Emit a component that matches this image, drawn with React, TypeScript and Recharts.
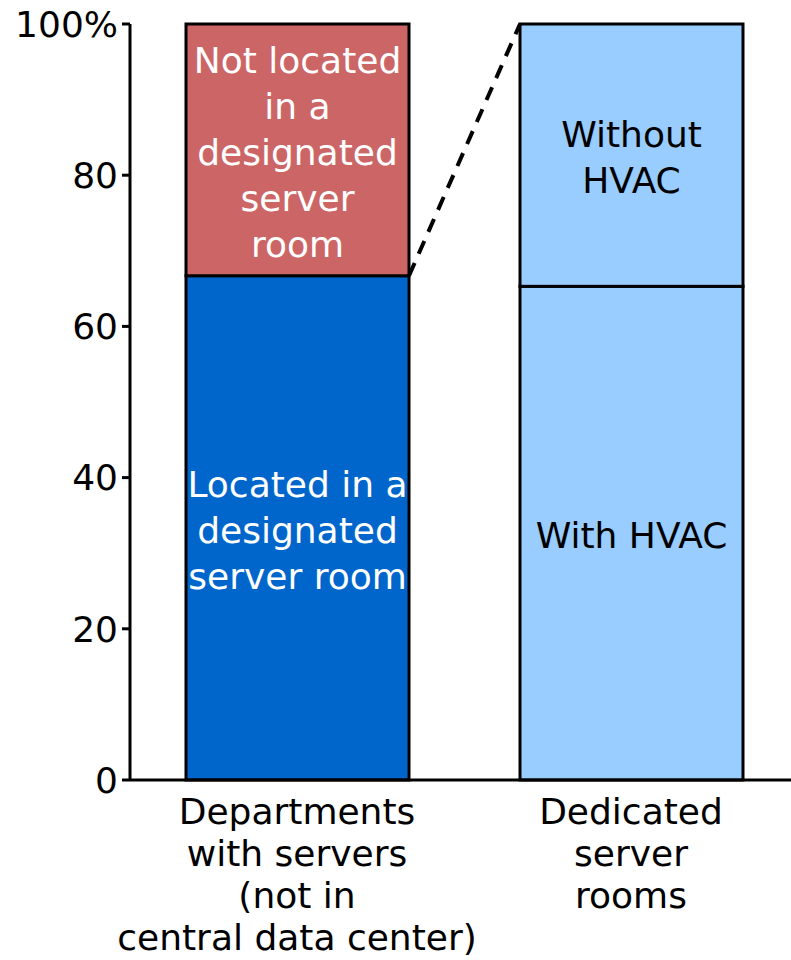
import React from "react"
import { Bar, BarChart, XAxis, YAxis } from "recharts"

// categories + stacked shares (percent)
const categories = ["Departments with servers (not in central data center)", "Dedicated server rooms"]
const categoryLines = [
  ["Departments", "with servers", "(not in", "central data center)"],
  ["Dedicated", "server", "rooms"],
]
const lowerValues = [66.7, 65.3]
const upperValues = [33.3, 34.7]
const lowerLabels = [["Located in a", "designated", "server room"], ["With HVAC"]]
const upperLabels = [["Not located", "in a", "designated", "server", "room"], ["Without", "HVAC"]]
const lowerColors = ["#0066CC", "#99CCFF"]
const upperColors = ["#CC6666", "#99CCFF"]
const labelColors = ["#FFFFFF", "#000000"]
const yTicks = [0, 20, 40, 60, 80, 100]

const data = categories.map((name, i) => ({ name, lower: lowerValues[i], upper: upperValues[i] }))

const FONT = "DejaVu Sans, Verdana, sans-serif"
const FS = 36

// corner of the first bar's lower segment, picked up by the zoom connector
let connectorStart: { x: number; y: number } | null = null

function segmentShape(which: "lower" | "upper") {
  return (props: any) => {
    const { x, y, width, height, index } = props
    const fill = which === "lower" ? lowerColors[index] : upperColors[index]
    const lines = which === "lower" ? lowerLabels[index] : upperLabels[index]
    const lh = 46
    const cy = y + height / 2 + 2 - ((lines.length - 1) * lh) / 2
    if (which === "lower" && index === 0) connectorStart = { x: x + width, y }
    return (
      <g>
        <rect x={x} y={y} width={width} height={height} fill={fill} stroke="#000" strokeWidth={3} />
        <text
          x={x + width / 2}
          y={cy}
          textAnchor="middle"
          dominantBaseline="central"
          fontFamily={FONT}
          fontSize={FS}
          fill={labelColors[index]}
        >
          {lines.map((l, k) => (
            <tspan key={k} x={x + width / 2} dy={k === 0 ? 0 : lh}>
              {l}
            </tspan>
          ))}
        </text>
        {which === "upper" && index === 1 && connectorStart && (
          <line
            x1={connectorStart.x}
            y1={connectorStart.y}
            x2={x}
            y2={y}
            stroke="#000"
            strokeWidth={4}
            strokeDasharray="14 10"
          />
        )}
      </g>
    )
  }
}

function CategoryTick(props: any) {
  const { x, y, index } = props
  const lines = categoryLines[index] || []
  return (
    <text x={x} y={y + 23} textAnchor="middle" dominantBaseline="central" fontFamily={FONT} fontSize={FS} fill="#000">
      {lines.map((l, k) => (
        <tspan key={k} x={x} dy={k === 0 ? 0 : 42}>
          {l}
        </tspan>
      ))}
    </text>
  )
}

export default function App() {
  return (
    <div style={{ position: "absolute", left: 0, top: 0, width: 791, height: 960, overflow: "hidden", background: "#fff" }}>
      <BarChart width={798} height={960} data={data} margin={{ top: 24, right: 0, bottom: 0, left: 0 }} barSize={223}>
        <XAxis
          dataKey="name"
          height={180}
          interval={0}
          tick={<CategoryTick />}
          tickLine={false}
          axisLine={{ stroke: "#000", strokeWidth: 3 }}
        />
        <YAxis
          width={130}
          domain={[0, 100]}
          ticks={yTicks}
          tickSize={8}
          tickMargin={4}
          tickFormatter={(v: number) => (v === 100 ? "100%" : String(v))}
          tick={{ fill: "#000", fontSize: FS, fontFamily: FONT }}
          tickLine={{ stroke: "#000", strokeWidth: 3 }}
          axisLine={{ stroke: "#000", strokeWidth: 3 }}
        />
        <Bar dataKey="lower" stackId="s" isAnimationActive={false} shape={segmentShape("lower")} />
        <Bar dataKey="upper" stackId="s" isAnimationActive={false} shape={segmentShape("upper")} />
      </BarChart>
    </div>
  )
}
